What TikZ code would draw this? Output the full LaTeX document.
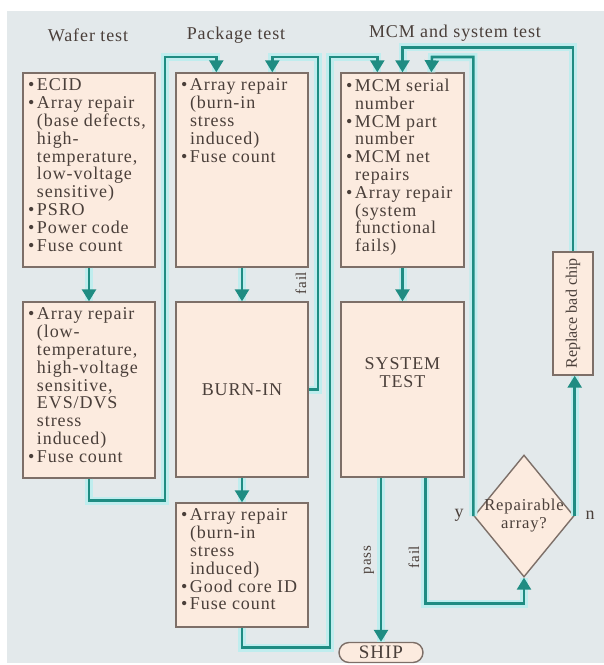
\documentclass[tikz,border=0pt]{standalone}
\usepackage{fontspec}
\usepackage{graphicx}
\setmainfont[LetterSpace=5]{Liberation Serif}
\newfontfamily\tightfont{Liberation Serif}
\usetikzlibrary{arrows.meta,shapes.geometric,calc}

\definecolor{panelbg}{HTML}{E3E9EB}
\definecolor{boxfill}{HTML}{FCEBDF}
\definecolor{boxline}{HTML}{7D6F68}
\definecolor{flowline}{HTML}{1F8C82}
\definecolor{flowglow}{HTML}{BFEDEE}
\definecolor{txtcol}{HTML}{4A3F3A}

\newcommand{\itm}[1]{\par\hangindent=4.5pt\hangafter=1\noindent\hbox to 4.5pt{\textbullet\hfil}#1}
\newcommand{\boxtext}[3]{\parbox[c][#2][t]{#1}{\raggedright\fontsize{9}{8.9}\selectfont\lineskiplimit=-10pt #3}}

\begin{document}
\begin{tikzpicture}[x=0.5pt,y=-0.5pt,
    box/.style={draw=boxline, fill=boxfill, line width=0.7pt, inner xsep=2.5pt, inner ysep=3pt, text=txtcol},
    flow/.style={draw=flowline, line width=1.3pt, -{Triangle[width=7pt,length=6pt]},
        preaction={draw=flowglow, line width=4pt, arrows=-}},
    head/.style={text=txtcol, font=\fontsize{9}{10}\selectfont},
    tag/.style={text=txtcol, font=\fontsize{7.5}{8}\selectfont, rotate=90}]
\useasboundingbox (0,0) rectangle (604,665);
\fill[white] (0,0) rectangle (604,665);
\fill[panelbg] (7,11) rectangle (604,663);

% column headings
\node[head] (hdwafer) at (88,35) {Wafer test};
\node[head] (hdpkg) at (236,35) {Package test};
\node[head] (hdmcm) at (455,33) {MCM and system test};

% wafer test
\node[box] (waf1) at (89,170) {\boxtext{61pt}{91pt}{%
    \itm{ECID}
    \itm{Array repair\newline (base defects,\newline high-\newline temperature,\newline low-voltage\newline sensitive)}
    \itm{PSRO}
    \itm{Power code}
    \itm{Fuse count}}};
\node[box] (waf2) at (89,390) {\boxtext{61pt}{82pt}{%
    \itm{Array repair\newline (low-\newline temperature,\newline high-voltage\newline sensitive,\newline EVS/DVS\newline stress\newline induced)}
    \itm{Fuse count}}};

% package test
\node[box] (pkg1) at (242,170) {\boxtext{61pt}{91pt}{%
    \itm{Array repair\newline (burn-in\newline stress\newline induced)}
    \itm{Fuse count}}};
\node[box, minimum width=66pt, minimum height=87.5pt, font=\fontsize{9}{10}\selectfont] (burn) at (242,389.5) {BURN-IN};
\node[box] (pkg3) at (242,565) {\boxtext{61pt}{56pt}{%
    \itm{Array repair\newline (burn-in\newline stress\newline induced)}
    \itm{Good core ID}
    \itm{Fuse count}}};

% MCM and system test
\node[box] (mcm) at (402.5,170) {\boxtext{56.5pt}{91pt}{%
    \itm{MCM serial\newline number}
    \itm{MCM part\newline number}
    \itm{MCM net\newline repairs}
    \itm{Array repair\newline (system\newline functional\newline fails)}}};
\node[box, minimum width=61.5pt, minimum height=87.5pt, align=center, font=\fontsize{9}{9}\selectfont] (sys) at (402.5,389.5) {SYSTEM\\TEST\\[8pt]};
\node[box, minimum width=20pt, minimum height=61.5pt, inner sep=0pt] (repl) at (573,313.5) {\rotatebox{90}{\tightfont\fontsize{8}{9}\selectfont Replace bad chip}};
\node[box, diamond, minimum width=50pt, minimum height=61pt, inner sep=0pt,
    label={[text=txtcol, align=center, font=\fontsize{8.3}{9}\selectfont]center:Repairable\\array?}] (dia) at (524,516) {};
\node[box, rounded corners=5pt, minimum width=42pt, minimum height=10pt, inner sep=0pt, font=\fontsize{9.5}{10}\selectfont] (ship) at (381,652.5) {SHIP};

% flows
\draw[flow] (waf1.south) -- (waf2.north);
\draw[flow] (waf2.south) -- ++(0,22) -| (165,57) -| ($(pkg1.north west)+(41,0)$);
\draw[flow] (pkg1.south) -- (burn.north);
\draw[flow] (burn.east) -| (318,57) -| ($(pkg1.north west)+(97,0)$);
\draw[flow] (burn.south) -- (pkg3.north);
\draw[flow] (pkg3.south) -- ++(0,20) -| (330,57) -| ($(mcm.north west)+(37,0)$);
\draw[flow] (mcm.south) -- (sys.north);
\draw[flow] (sys.south -| ship.north) -- (ship.north);
\draw[flow] ($(sys.south west)+(85,0)$) -- ++(0,126) -| (dia.south);
\draw[flow] (dia.west) |- (432,57) -- ($(mcm.north west)+(91,0)$);
\draw[flow] (dia.east) -- (dia.east |- repl.south);
\draw[flow] (repl.north) -- ++(0,-204) -| (mcm.north);

% labels
\node[tag] (failburn) at (301,283) {fail};
\node[tag] (passsys) at (369,560) {pass};
\node[tag] (failsys) at (414,557) {fail};
\node[head] (yes) at (459,515) {y};
\node[head] (no) at (590,515) {n};
\end{tikzpicture}
\end{document}
